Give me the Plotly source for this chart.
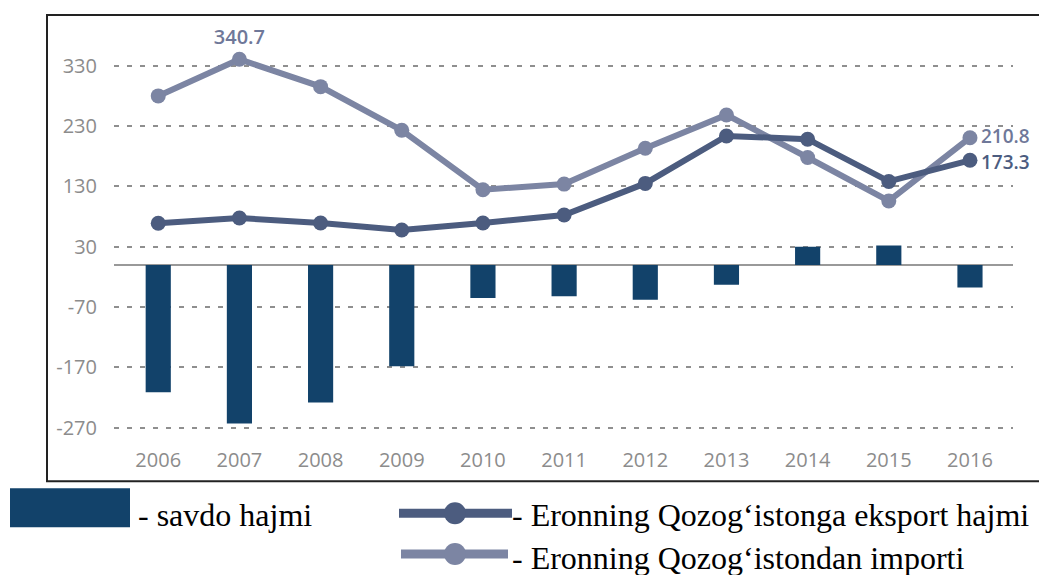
import plotly.graph_objects as go

years = ["2006", "2007", "2008", "2009", "2010", "2011", "2012", "2013", "2014", "2015", "2016"]
trade_balance = [-211, -263, -228, -168, -55, -52, -58, -33, 30, 32, -37.5]
export_to_kz = [68.9, 77.7, 69.4, 57.9, 69.4, 82.6, 135.0, 213.7, 208.3, 138.3, 173.3]
import_from_kz = [280.0, 340.7, 295.4, 223.0, 124.5, 133.9, 193.4, 248.5, 178.0, 106.0, 210.8]
y_ticks = [-270, -170, -70, 30, 130, 230, 330]
y_tick_labels = ["-270", "-170", "-70", "30", "130", "230", "330"]
legend_labels = ["- savdo hajmi",
                 "- Eronning Qozog\u2018istonga eksport hajmi",
                 "- Eronning Qozog\u2018istondan importi"]

W, H = 1039, 575
BAR_C = "#12426a"
DARK_C = "#4c5c7f"
LIGHT_C = "#7c85a3"
LIGHT_TXT = "#6f7899"
TICK_C = "#8c8c8c"


def px(x):
    return x / W


def py(y):
    return 1 - y / H


# label only for the import peak on the trace itself
imp_text = ["" for _ in years]
imp_text[1] = f"{import_from_kz[1]:.1f}"

fig = go.Figure()
fig.add_trace(go.Bar(x=years, y=trade_balance, marker=dict(color=BAR_C, line=dict(width=0)),
                     width=0.31, showlegend=False))
fig.add_trace(go.Scatter(x=years, y=import_from_kz, mode="lines+markers+text",
                         line=dict(color=LIGHT_C, width=6), marker=dict(size=15, color=LIGHT_C),
                         text=imp_text, textposition="top center",
                         textfont=dict(family="Open Sans", size=20, color=LIGHT_TXT, weight=600),
                         showlegend=False, cliponaxis=False))
fig.add_trace(go.Scatter(x=years, y=export_to_kz, mode="lines+markers",
                         line=dict(color=DARK_C, width=6), marker=dict(size=15, color=DARK_C),
                         showlegend=False, cliponaxis=False))

y_top, y_bot = 20, 440
scale = 0.6055
zero_y = 265.8
r_top = (zero_y - y_top) / scale
r_bot = (zero_y - y_bot) / scale

shapes = [
    # outer frame
    dict(type="rect", xref="paper", yref="paper", x0=px(47), x1=px(1045), y0=py(483), y1=py(15),
         line=dict(color="#222222", width=2), layer="below"),
    # legend: bar swatch
    dict(type="rect", xref="paper", yref="paper", x0=px(10), x1=px(130), y0=py(529), y1=py(490),
         fillcolor=BAR_C, line=dict(width=0)),
    # legend: export line
    dict(type="line", xref="paper", yref="paper", x0=px(399), x1=px(512), y0=py(515), y1=py(515),
         line=dict(color=DARK_C, width=9)),
    dict(type="circle", xref="paper", yref="paper", x0=px(444), x1=px(466), y0=py(526), y1=py(504),
         fillcolor=DARK_C, line=dict(width=0)),
    # legend: import line
    dict(type="line", xref="paper", yref="paper", x0=px(401), x1=px(508), y0=py(556), y1=py(556),
         line=dict(color=LIGHT_C, width=9)),
    dict(type="circle", xref="paper", yref="paper", x0=px(444), x1=px(466), y0=py(567), y1=py(545),
         fillcolor=LIGHT_C, line=dict(width=0)),
]

serif = dict(family="Liberation Serif", size=32, color="#000000")
last = len(years) - 1
annotations = [
    # end-point value labels
    dict(text=f"{import_from_kz[-1]:.1f}", x=last, y=import_from_kz[-1], xref="x", yref="y",
         xanchor="left", yanchor="middle", xshift=9, yshift=2, showarrow=False,
         font=dict(family="Open Sans", size=19, color=LIGHT_TXT, weight=600)),
    dict(text=f"{export_to_kz[-1]:.1f}", x=last, y=export_to_kz[-1], xref="x", yref="y",
         xanchor="left", yanchor="middle", xshift=9, yshift=-2, showarrow=False,
         font=dict(family="Open Sans", size=19, color=DARK_C, weight=600)),
    # legend texts
    dict(text=legend_labels[0], xref="paper", yref="paper", x=px(136), y=py(517),
         xanchor="left", yanchor="middle", showarrow=False, font=serif),
    dict(text=legend_labels[1], xref="paper", yref="paper", x=px(510), y=py(517),
         xanchor="left", yanchor="middle", showarrow=False, font=serif),
    dict(text=legend_labels[2], xref="paper", yref="paper", x=px(510), y=py(560),
         xanchor="left", yanchor="middle", showarrow=False, font=serif),
]

fig.update_layout(
    width=W, height=H,
    margin=dict(l=0, r=0, t=0, b=0),
    paper_bgcolor="white", plot_bgcolor="white",
    bargap=0.69,
    shapes=shapes, annotations=annotations,
    xaxis=dict(type="category", domain=[px(114), px(1013)], range=[-0.545, 10.53], showgrid=False,
               showline=False, ticks="", tickfont=dict(family="Open Sans", size=20, color=TICK_C),
               ticklabelstandoff=8, fixedrange=True),
    yaxis=dict(domain=[py(y_bot), py(y_top)], range=[r_bot, r_top], tickvals=y_ticks,
               ticktext=y_tick_labels,
               showgrid=True, gridcolor="#8f8f8f", gridwidth=2, griddash="5px,8px",
               zeroline=True, zerolinecolor="#999999", zerolinewidth=2,
               showline=False, ticks="", tickfont=dict(family="Open Sans", size=20, color=TICK_C),
               ticklabelstandoff=16, fixedrange=True),
)

fig.write_html("out.html", config={"displayModeBar": False},
               post_script="document.body.style.margin='0';document.body.style.overflow='hidden';")
